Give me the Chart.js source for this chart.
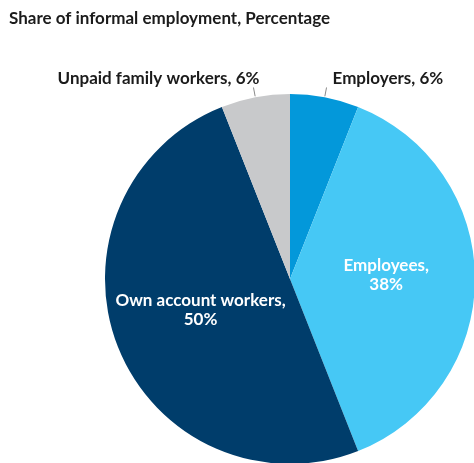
<!DOCTYPE html>
<html lang="en">
<head>
  <meta charset="UTF-8" />
  <title>Share of informal employment</title>
  <script src="https://cdn.jsdelivr.net/npm/chart.js"></script>
  <style>
    html, body { margin: 0; padding: 0; background: #fff; overflow: hidden; }
    #wrap { position: relative; width: 480px; height: 470px; }
  </style>
</head>
<body>
  <div id="wrap"><canvas id="pie" width="480" height="470"></canvas></div>

  <script>
    const categories = ['Employers', 'Employees', 'Own account workers', 'Unpaid family workers'];
    const shares = [6, 38, 50, 6];
    const sliceColors = ['#0398da', '#46c8f5', '#003d6b', '#c8c9cb'];
    // label lines and where each label goes (outside the pie or inside it)
    const labelLines = [['Employers, 6%'], ['Employees,', '38%'], ['Own account workers,', '50%'], ['Unpaid family workers, 6%']];
    const labelOutside = [true, false, false, true];

    const font = 'bold 17px Lato, "Open Sans", sans-serif';

    const labelsPlugin = {
      id: 'sliceLabels',
      afterDraw(chart) {
        const ctx = chart.ctx;
        const arcs = chart.getDatasetMeta(0).data;
        ctx.save();
        ctx.font = font;
        ctx.textBaseline = 'middle';

        // title
        ctx.fillStyle = '#1b1b1b';
        ctx.textAlign = 'left';
        ctx.fillText('Share of informal employment, Percentage', 9, 19);

        arcs.forEach((arc, i) => {
          const mid = (arc.startAngle + arc.endAngle) / 2;
          const r = arc.outerRadius;
          if (labelOutside[i]) {
            const x0 = arc.x + Math.cos(mid) * (r + 1);
            const y0 = arc.y + Math.sin(mid) * (r + 1);
            const x1 = arc.x + Math.cos(mid) * (r + 10);
            const y1 = arc.y + Math.sin(mid) * (r + 10);
            ctx.strokeStyle = '#8a8a8a';
            ctx.lineWidth = 1;
            ctx.beginPath();
            ctx.moveTo(x0, y0);
            ctx.lineTo(x1, y1);
            ctx.stroke();
            ctx.fillStyle = '#1b1b1b';
            const right = Math.cos(mid) >= 0;
            ctx.textAlign = right ? 'left' : 'right';
            ctx.fillText(labelLines[i][0], x1 + 6, y1 - 9);
          } else {
            const cx = arc.x + Math.cos(mid) * r * 0.52;
            const cy = arc.y + Math.sin(mid) * r * 0.52 - 4;
            ctx.fillStyle = '#ffffff';
            ctx.textAlign = 'center';
            const lines = labelLines[i];
            lines.forEach((t, k) => {
              ctx.fillText(t, cx, cy + (k - (lines.length - 1) / 2) * 19);
            });
          }
        });
        ctx.restore();
      }
    };

    new Chart(document.getElementById('pie'), {
      type: 'pie',
      data: {
        labels: categories,
        datasets: [{
          data: shares,
          backgroundColor: sliceColors,
          borderWidth: 0
        }]
      },
      options: {
        responsive: false,
        animation: false,
        layout: { padding: { left: 105, right: 5, top: 94, bottom: 6 } },
        plugins: {
          legend: { display: false },
          tooltip: { enabled: false }
        }
      },
      plugins: [labelsPlugin]
    });
  </script>
</body>
</html>
